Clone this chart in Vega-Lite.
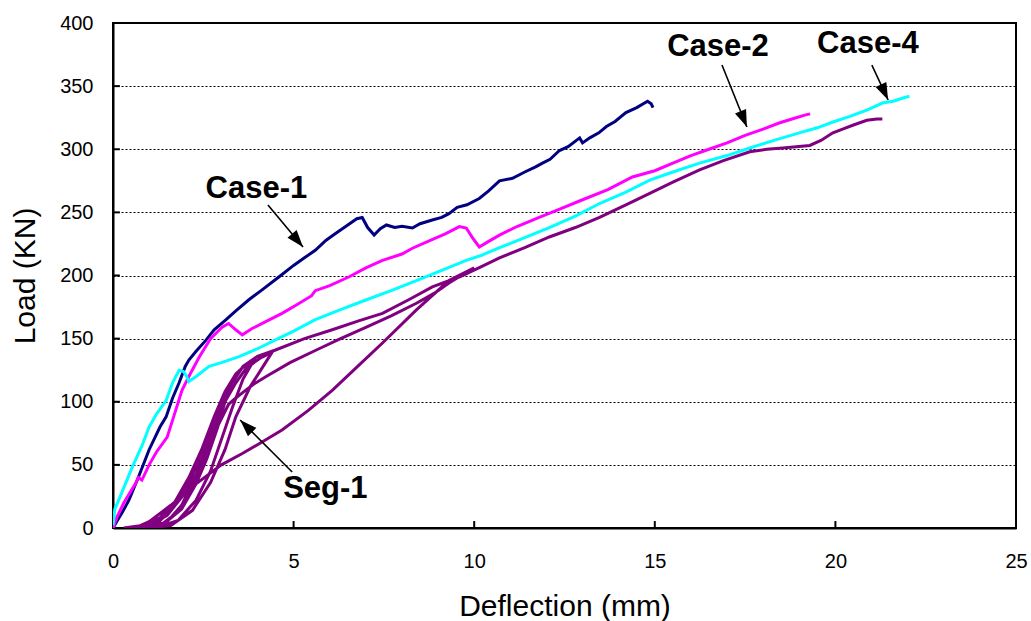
{
  "$schema": "https://vega.github.io/schema/vega-lite/v6.json",
  "width": 903,
  "height": 505,
  "autosize": {"type": "none"},
  "padding": {"left": 113, "top": 23, "right": 15, "bottom": 93},
  "background": "white",
  "datasets": {
    "lines": [
      {"s":"Case-1","x":0,"y":0},{"s":"Case-1","x":0.1,"y":5},{"s":"Case-1","x":0.25,"y":12},{"s":"Case-1","x":0.44,"y":22},{"s":"Case-1","x":0.7,"y":40},{"s":"Case-1","x":1.0,"y":62},{"s":"Case-1","x":1.3,"y":80},{"s":"Case-1","x":1.47,"y":88},{"s":"Case-1","x":1.65,"y":103},{"s":"Case-1","x":1.83,"y":115},{"s":"Case-1","x":2.0,"y":128},{"s":"Case-1","x":2.1,"y":133},{"s":"Case-1","x":2.3,"y":140},{"s":"Case-1","x":2.58,"y":149},{"s":"Case-1","x":2.8,"y":157},{"s":"Case-1","x":3.13,"y":165},{"s":"Case-1","x":3.4,"y":172},{"s":"Case-1","x":3.77,"y":181},{"s":"Case-1","x":4.1,"y":188},{"s":"Case-1","x":4.6,"y":199},{"s":"Case-1","x":5.0,"y":208},{"s":"Case-1","x":5.3,"y":214},{"s":"Case-1","x":5.6,"y":220},{"s":"Case-1","x":5.9,"y":228},{"s":"Case-1","x":6.2,"y":234},{"s":"Case-1","x":6.5,"y":240},{"s":"Case-1","x":6.75,"y":245},{"s":"Case-1","x":6.9,"y":246},{"s":"Case-1","x":7.05,"y":238},{"s":"Case-1","x":7.23,"y":232},{"s":"Case-1","x":7.4,"y":237},{"s":"Case-1","x":7.57,"y":240},{"s":"Case-1","x":7.8,"y":238},{"s":"Case-1","x":8.0,"y":239},{"s":"Case-1","x":8.29,"y":237.6},{"s":"Case-1","x":8.5,"y":241},{"s":"Case-1","x":8.84,"y":244},{"s":"Case-1","x":9.1,"y":246},{"s":"Case-1","x":9.3,"y":249},{"s":"Case-1","x":9.53,"y":254},{"s":"Case-1","x":9.8,"y":256},{"s":"Case-1","x":10.14,"y":261},{"s":"Case-1","x":10.4,"y":267},{"s":"Case-1","x":10.7,"y":275},{"s":"Case-1","x":11.06,"y":277},{"s":"Case-1","x":11.4,"y":282},{"s":"Case-1","x":11.7,"y":286},{"s":"Case-1","x":11.89,"y":289},{"s":"Case-1","x":12.1,"y":292},{"s":"Case-1","x":12.36,"y":299},{"s":"Case-1","x":12.6,"y":302},{"s":"Case-1","x":12.92,"y":309},{"s":"Case-1","x":13.0,"y":305},{"s":"Case-1","x":13.2,"y":309},{"s":"Case-1","x":13.45,"y":313},{"s":"Case-1","x":13.66,"y":318},{"s":"Case-1","x":13.9,"y":322},{"s":"Case-1","x":14.2,"y":329},{"s":"Case-1","x":14.5,"y":333},{"s":"Case-1","x":14.8,"y":338},{"s":"Case-1","x":14.9,"y":336},{"s":"Case-1","x":14.95,"y":333},
      {"s":"Case-2","x":0,"y":0},{"s":"Case-2","x":0.1,"y":8},{"s":"Case-2","x":0.3,"y":20},{"s":"Case-2","x":0.64,"y":36},{"s":"Case-2","x":0.7,"y":40},{"s":"Case-2","x":0.8,"y":38},{"s":"Case-2","x":1.0,"y":50},{"s":"Case-2","x":1.2,"y":60},{"s":"Case-2","x":1.5,"y":72},{"s":"Case-2","x":1.7,"y":90},{"s":"Case-2","x":1.91,"y":109},{"s":"Case-2","x":2.1,"y":120},{"s":"Case-2","x":2.38,"y":135},{"s":"Case-2","x":2.7,"y":150},{"s":"Case-2","x":3.02,"y":159},{"s":"Case-2","x":3.2,"y":162},{"s":"Case-2","x":3.4,"y":157},{"s":"Case-2","x":3.58,"y":153},{"s":"Case-2","x":3.85,"y":158},{"s":"Case-2","x":4.2,"y":163},{"s":"Case-2","x":4.68,"y":170},{"s":"Case-2","x":5.1,"y":177},{"s":"Case-2","x":5.5,"y":184},{"s":"Case-2","x":5.6,"y":188},{"s":"Case-2","x":6.0,"y":192},{"s":"Case-2","x":6.54,"y":199},{"s":"Case-2","x":7.0,"y":206},{"s":"Case-2","x":7.46,"y":212},{"s":"Case-2","x":8.0,"y":217},{"s":"Case-2","x":8.29,"y":221.6},{"s":"Case-2","x":8.8,"y":228},{"s":"Case-2","x":9.2,"y":233},{"s":"Case-2","x":9.59,"y":238.7},{"s":"Case-2","x":9.78,"y":237.6},{"s":"Case-2","x":9.95,"y":230},{"s":"Case-2","x":10.14,"y":222.6},{"s":"Case-2","x":10.4,"y":227},{"s":"Case-2","x":10.7,"y":232},{"s":"Case-2","x":11.2,"y":239},{"s":"Case-2","x":11.8,"y":246},{"s":"Case-2","x":12.4,"y":253},{"s":"Case-2","x":13.0,"y":260},{"s":"Case-2","x":13.7,"y":268},{"s":"Case-2","x":14.38,"y":278},{"s":"Case-2","x":15.0,"y":283},{"s":"Case-2","x":15.5,"y":289},{"s":"Case-2","x":16.0,"y":295},{"s":"Case-2","x":16.4,"y":299},{"s":"Case-2","x":17.0,"y":305},{"s":"Case-2","x":17.5,"y":311},{"s":"Case-2","x":18.0,"y":316},{"s":"Case-2","x":18.46,"y":321},{"s":"Case-2","x":18.8,"y":324},{"s":"Case-2","x":19.15,"y":327},{"s":"Case-2","x":19.3,"y":328},
      {"s":"Case-4","x":0,"y":2},{"s":"Case-4","x":0.05,"y":15},{"s":"Case-4","x":0.2,"y":25},{"s":"Case-4","x":0.53,"y":48},{"s":"Case-4","x":0.8,"y":65},{"s":"Case-4","x":1.0,"y":80},{"s":"Case-4","x":1.2,"y":90},{"s":"Case-4","x":1.47,"y":101},{"s":"Case-4","x":1.65,"y":115},{"s":"Case-4","x":1.83,"y":125},{"s":"Case-4","x":1.95,"y":124},{"s":"Case-4","x":2.02,"y":121},{"s":"Case-4","x":2.1,"y":116},{"s":"Case-4","x":2.3,"y":120},{"s":"Case-4","x":2.66,"y":128},{"s":"Case-4","x":3.0,"y":131},{"s":"Case-4","x":3.49,"y":135.7},{"s":"Case-4","x":4.0,"y":142},{"s":"Case-4","x":4.5,"y":149},{"s":"Case-4","x":5.0,"y":156},{"s":"Case-4","x":5.6,"y":165},{"s":"Case-4","x":6.3,"y":173},{"s":"Case-4","x":7.0,"y":180.6},{"s":"Case-4","x":7.7,"y":188},{"s":"Case-4","x":8.4,"y":196},{"s":"Case-4","x":9.1,"y":204},{"s":"Case-4","x":9.78,"y":212},{"s":"Case-4","x":10.2,"y":216},{"s":"Case-4","x":10.7,"y":222},{"s":"Case-4","x":11.4,"y":230},{"s":"Case-4","x":12.08,"y":238},{"s":"Case-4","x":12.8,"y":247},{"s":"Case-4","x":13.47,"y":257},{"s":"Case-4","x":14.2,"y":266},{"s":"Case-4","x":14.86,"y":275.6},{"s":"Case-4","x":15.5,"y":282},{"s":"Case-4","x":16.24,"y":289},{"s":"Case-4","x":17.0,"y":295},{"s":"Case-4","x":17.63,"y":301},{"s":"Case-4","x":18.3,"y":307},{"s":"Case-4","x":19.0,"y":313},{"s":"Case-4","x":19.5,"y":317},{"s":"Case-4","x":19.93,"y":321.6},{"s":"Case-4","x":20.4,"y":326},{"s":"Case-4","x":20.87,"y":331},{"s":"Case-4","x":21.3,"y":336.6},{"s":"Case-4","x":21.6,"y":338},{"s":"Case-4","x":21.87,"y":340.6},{"s":"Case-4","x":22.05,"y":342},
      {"s":"Seg-1","x":0.3,"y":0},{"s":"Seg-1","x":0.8,"y":2},{"s":"Seg-1","x":1.3,"y":8},{"s":"Seg-1","x":1.7,"y":20},{"s":"Seg-1","x":2.1,"y":40},{"s":"Seg-1","x":2.5,"y":65},{"s":"Seg-1","x":2.8,"y":88},{"s":"Seg-1","x":3.0,"y":100},{"s":"Seg-1","x":3.2,"y":110},{"s":"Seg-1","x":3.1,"y":100},{"s":"Seg-1","x":2.9,"y":80},{"s":"Seg-1","x":2.6,"y":55},{"s":"Seg-1","x":2.3,"y":35},{"s":"Seg-1","x":1.9,"y":15},{"s":"Seg-1","x":1.4,"y":4},{"s":"Seg-1","x":0.8,"y":0},
      {"s":"Seg-1","x":1.2,"y":3},{"s":"Seg-1","x":1.6,"y":14},{"s":"Seg-1","x":2.0,"y":32},{"s":"Seg-1","x":2.4,"y":58},{"s":"Seg-1","x":2.8,"y":88},{"s":"Seg-1","x":3.1,"y":108},{"s":"Seg-1","x":3.4,"y":122},{"s":"Seg-1","x":3.7,"y":130},{"s":"Seg-1","x":3.9,"y":133},{"s":"Seg-1","x":3.6,"y":118},{"s":"Seg-1","x":3.3,"y":95},{"s":"Seg-1","x":3.0,"y":70},{"s":"Seg-1","x":2.7,"y":45},{"s":"Seg-1","x":2.3,"y":22},{"s":"Seg-1","x":1.8,"y":6},{"s":"Seg-1","x":1.2,"y":0},
      {"s":"Seg-1","x":1.5,"y":5},{"s":"Seg-1","x":1.9,"y":18},{"s":"Seg-1","x":2.3,"y":42},{"s":"Seg-1","x":2.7,"y":72},{"s":"Seg-1","x":3.1,"y":100},{"s":"Seg-1","x":3.4,"y":115},{"s":"Seg-1","x":3.7,"y":127},{"s":"Seg-1","x":4.1,"y":135},{"s":"Seg-1","x":4.4,"y":139},{"s":"Seg-1","x":4.2,"y":130},{"s":"Seg-1","x":3.8,"y":112},{"s":"Seg-1","x":3.4,"y":88},{"s":"Seg-1","x":3.1,"y":62},{"s":"Seg-1","x":2.7,"y":36},{"s":"Seg-1","x":2.2,"y":14},{"s":"Seg-1","x":1.6,"y":2},{"s":"Seg-1","x":1.0,"y":0},
      {"s":"Seg-1","x":1.4,"y":3},{"s":"Seg-1","x":1.9,"y":15},{"s":"Seg-1","x":2.4,"y":45},{"s":"Seg-1","x":2.8,"y":75},{"s":"Seg-1","x":3.2,"y":98},{"s":"Seg-1","x":3.4,"y":103},{"s":"Seg-1","x":3.58,"y":107},{"s":"Seg-1","x":3.9,"y":114},{"s":"Seg-1","x":4.24,"y":120},{"s":"Seg-1","x":4.9,"y":131},{"s":"Seg-1","x":5.63,"y":141},{"s":"Seg-1","x":6.3,"y":150},{"s":"Seg-1","x":7.0,"y":159},{"s":"Seg-1","x":7.7,"y":168},{"s":"Seg-1","x":8.4,"y":178},{"s":"Seg-1","x":8.9,"y":186},{"s":"Seg-1","x":9.3,"y":194},{"s":"Seg-1","x":9.7,"y":201},{"s":"Seg-1","x":10.0,"y":206},{"s":"Seg-1","x":9.3,"y":196},{"s":"Seg-1","x":8.4,"y":172.7},{"s":"Seg-1","x":7.46,"y":146.5},{"s":"Seg-1","x":6.7,"y":126},{"s":"Seg-1","x":6.07,"y":109},{"s":"Seg-1","x":5.4,"y":93},{"s":"Seg-1","x":4.68,"y":77.6},{"s":"Seg-1","x":4.0,"y":66},{"s":"Seg-1","x":3.58,"y":59},{"s":"Seg-1","x":3.0,"y":50},{"s":"Seg-1","x":2.3,"y":35},{"s":"Seg-1","x":1.6,"y":18},{"s":"Seg-1","x":1.0,"y":5},{"s":"Seg-1","x":0.6,"y":0},
      {"s":"Seg-1","x":1.0,"y":2},{"s":"Seg-1","x":1.5,"y":10},{"s":"Seg-1","x":2.0,"y":28},{"s":"Seg-1","x":2.5,"y":62},{"s":"Seg-1","x":2.9,"y":92},{"s":"Seg-1","x":3.3,"y":115},{"s":"Seg-1","x":3.6,"y":128},{"s":"Seg-1","x":4.0,"y":136},{"s":"Seg-1","x":4.5,"y":141},{"s":"Seg-1","x":5.3,"y":150},{"s":"Seg-1","x":6.07,"y":157},{"s":"Seg-1","x":6.8,"y":164},{"s":"Seg-1","x":7.46,"y":170},{"s":"Seg-1","x":8.2,"y":181},{"s":"Seg-1","x":8.84,"y":191},{"s":"Seg-1","x":9.6,"y":199},{"s":"Seg-1","x":10.2,"y":207},{"s":"Seg-1","x":10.7,"y":214},{"s":"Seg-1","x":11.4,"y":222},{"s":"Seg-1","x":12.08,"y":230.5},{"s":"Seg-1","x":12.8,"y":238},{"s":"Seg-1","x":13.47,"y":246},{"s":"Seg-1","x":14.2,"y":256},{"s":"Seg-1","x":14.86,"y":265},{"s":"Seg-1","x":15.5,"y":274},{"s":"Seg-1","x":16.24,"y":283.6},{"s":"Seg-1","x":16.9,"y":291},{"s":"Seg-1","x":17.63,"y":298},{"s":"Seg-1","x":18.1,"y":300},{"s":"Seg-1","x":18.54,"y":301},{"s":"Seg-1","x":19.29,"y":303},{"s":"Seg-1","x":19.6,"y":307},{"s":"Seg-1","x":19.93,"y":313},{"s":"Seg-1","x":20.2,"y":316},{"s":"Seg-1","x":20.48,"y":319},{"s":"Seg-1","x":20.87,"y":323},{"s":"Seg-1","x":21.15,"y":324},{"s":"Seg-1","x":21.3,"y":324}
    ],
    "ann": [
      {"label":"Case-1","tx":3.97,"ty":268.5,"x0":4.29,"y0":255.8,"x1":5.26,"y1":222.6},
      {"label":"Case-2","tx":16.75,"ty":380.6,"x0":16.86,"y0":366.7,"x1":17.55,"y1":317.6},
      {"label":"Case-4","tx":20.9,"ty":383,"x0":21.01,"y0":366.7,"x1":21.46,"y1":339},
      {"label":"Seg-1","tx":5.88,"ty":30.5,"x0":4.96,"y0":44.4,"x1":3.52,"y1":85.5}
    ],
    "xticks": [{"v":5},{"v":10},{"v":15},{"v":20}],
    "yticks": [{"v":50},{"v":100},{"v":150},{"v":200},{"v":250},{"v":300},{"v":350}]
  },
  "layer": [
    {
      "data": {"name": "lines"},
      "mark": {"type": "line", "strokeWidth": 3, "clip": true},
      "encoding": {
        "x": {"field": "x", "type": "quantitative", "title": "Deflection (mm)", "scale": {"domain": [0, 25], "nice": false}, "axis": {"values": [0, 5, 10, 15, 20, 25], "ticks": false, "tickSize": 0, "labelPadding": 23, "titlePadding": 20}},
        "y": {"field": "y", "type": "quantitative", "title": "Load (KN)", "scale": {"domain": [0, 400], "nice": false}, "axis": {"values": [0, 50, 100, 150, 200, 250, 300, 350, 400], "ticks": false, "tickSize": 0, "labelPadding": 20, "titlePadding": 19, "grid": true, "gridColor": "black", "gridDash": [2, 2], "gridWidth": 1, "gridOpacity": 1}},
        "color": {"field": "s", "type": "nominal", "scale": {"domain": ["Case-1", "Case-2", "Case-4", "Seg-1"], "range": ["#000080", "#FF00FF", "#00FFFF", "#800080"]}, "legend": null},
        "order": {"value": null}
      }
    },
    {
      "data": {"name": "xticks"},
      "mark": {"type": "rule", "color": "black", "strokeWidth": 2},
      "encoding": {
        "x": {"field": "v", "type": "quantitative", "title": "Deflection (mm)"},
        "y": {"datum": 0, "type": "quantitative"},
        "y2": {"datum": 5.5}
      }
    },
    {
      "data": {"name": "yticks"},
      "mark": {"type": "rule", "color": "black", "strokeWidth": 2},
      "encoding": {
        "y": {"field": "v", "type": "quantitative", "title": "Load (KN)"},
        "x": {"datum": 0, "type": "quantitative"},
        "x2": {"datum": 0.19}
      }
    },
    {
      "data": {"name": "ann"},
      "mark": {"type": "rule", "color": "black", "strokeWidth": 1.6},
      "encoding": {
        "x": {"field": "x0", "type": "quantitative", "title": "Deflection (mm)"},
        "y": {"field": "y0", "type": "quantitative", "title": "Load (KN)"},
        "x2": {"field": "x1"},
        "y2": {"field": "y1"}
      }
    },
    {
      "data": {"name": "ann"},
      "transform": [{"filter": "datum.label === 'Case-1'"}],
      "mark": {"type": "point", "shape": "M0,0L-0.7,2L0.7,2Z", "filled": true, "color": "black", "opacity": 1, "size": 289, "angle": 140},
      "encoding": {"x": {"field": "x1", "type": "quantitative", "title": "Deflection (mm)"}, "y": {"field": "y1", "type": "quantitative", "title": "Load (KN)"}}
    },
    {
      "data": {"name": "ann"},
      "transform": [{"filter": "datum.label === 'Case-2'"}],
      "mark": {"type": "point", "shape": "M0,0L-0.7,2L0.7,2Z", "filled": true, "color": "black", "opacity": 1, "size": 289, "angle": 158},
      "encoding": {"x": {"field": "x1", "type": "quantitative", "title": "Deflection (mm)"}, "y": {"field": "y1", "type": "quantitative", "title": "Load (KN)"}}
    },
    {
      "data": {"name": "ann"},
      "transform": [{"filter": "datum.label === 'Case-4'"}],
      "mark": {"type": "point", "shape": "M0,0L-0.7,2L0.7,2Z", "filled": true, "color": "black", "opacity": 1, "size": 289, "angle": 155},
      "encoding": {"x": {"field": "x1", "type": "quantitative", "title": "Deflection (mm)"}, "y": {"field": "y1", "type": "quantitative", "title": "Load (KN)"}}
    },
    {
      "data": {"name": "ann"},
      "transform": [{"filter": "datum.label === 'Seg-1'"}],
      "mark": {"type": "point", "shape": "M0,0L-0.7,2L0.7,2Z", "filled": true, "color": "black", "opacity": 1, "size": 289, "angle": 315},
      "encoding": {"x": {"field": "x1", "type": "quantitative", "title": "Deflection (mm)"}, "y": {"field": "y1", "type": "quantitative", "title": "Load (KN)"}}
    },
    {
      "data": {"name": "ann"},
      "mark": {"type": "text", "font": "Liberation Sans", "fontWeight": "bold", "fontSize": 31, "color": "black", "align": "center", "baseline": "middle"},
      "encoding": {
        "x": {"field": "tx", "type": "quantitative", "title": "Deflection (mm)"},
        "y": {"field": "ty", "type": "quantitative", "title": "Load (KN)"},
        "text": {"field": "label"}
      }
    }
  ],
  "config": {
    "view": {"stroke": "black", "strokeWidth": 2},
    "font": "Liberation Sans",
    "axis": {
      "domainColor": "black", "domainWidth": 2, "tickColor": "black", "tickWidth": 2,
      "labelFont": "Liberation Sans", "labelFontSize": 20, "labelColor": "black",
      "titleFont": "Liberation Sans", "titleFontSize": 30, "titleFontWeight": "normal", "titleColor": "black",
      "labelFlush": false, "labelOverlap": false
    },
    "axisX": {"grid": false},
    "axisY": {"grid": false}
  }
}
